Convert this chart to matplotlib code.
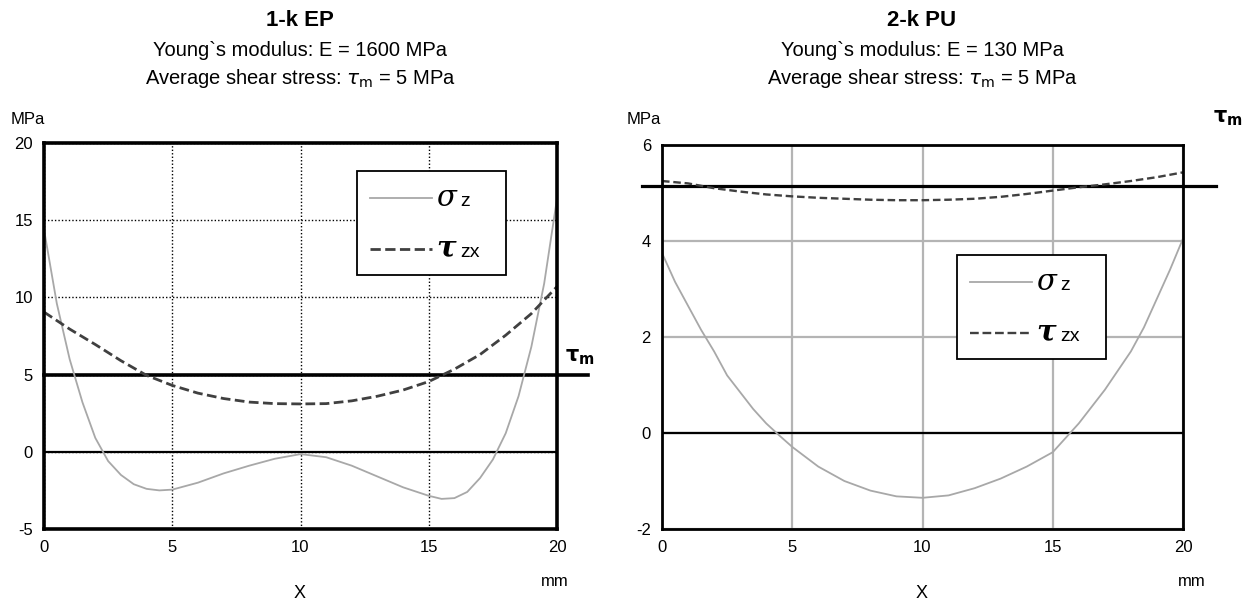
import matplotlib
matplotlib.use("Agg")
import matplotlib.pyplot as plt
from matplotlib.font_manager import FontProperties
from matplotlib.lines import Line2D
from matplotlib.offsetbox import (AnchoredOffsetbox, DrawingArea, HPacker, TextArea,
                                  VPacker)

# ---------------- data ----------------
ep_sigma_x = [0, 0.5, 1, 1.5, 2, 2.5, 3, 3.5, 4, 4.5, 5, 6, 7, 8, 9, 10, 11, 12, 13, 14, 15,
              15.5, 16, 16.5, 17, 17.5, 18, 18.5, 19, 19.5, 20]
ep_sigma = [14.4, 9.6, 6.0, 3.2, 0.9, -0.6, -1.5, -2.1, -2.4, -2.5, -2.45, -2.0, -1.4, -0.9, -0.45,
            -0.15, -0.35, -0.9, -1.6, -2.3, -2.85, -3.05, -3.0, -2.6, -1.7, -0.5, 1.2, 3.6, 6.8, 10.9, 16.4]
ep_tau_x = [0, 1, 2, 3, 4, 5, 6, 7, 8, 9, 10, 11, 12, 13, 14, 15, 16, 17, 18, 19, 20]
ep_tau = [9.05, 7.95, 6.95, 5.9, 4.95, 4.3, 3.8, 3.45, 3.22, 3.12, 3.1, 3.12, 3.3, 3.6, 4.0, 4.55,
          5.35, 6.3, 7.55, 8.95, 10.7]
ep_tau_m = 5.0

pu_sigma_x = [0, 0.5, 1, 1.5, 2, 2.5, 3, 3.5, 4, 4.5, 5, 6, 7, 8, 9, 10, 11, 12, 13, 14, 15,
              15.5, 16, 17, 18, 18.5, 19, 19.5, 20]
pu_sigma = [3.75, 3.15, 2.65, 2.15, 1.7, 1.2, 0.85, 0.5, 0.2, -0.05, -0.29, -0.7, -1.0, -1.2, -1.32,
            -1.35, -1.3, -1.15, -0.95, -0.7, -0.4, -0.1, 0.2, 0.9, 1.7, 2.2, 2.8, 3.4, 4.05]
pu_tau_x = [0, 1, 2, 3, 4, 5, 6, 7, 8, 9, 10, 11, 12, 13, 14, 15, 16, 17, 18, 19, 20]
pu_tau = [5.25, 5.2, 5.1, 5.03, 4.97, 4.93, 4.9, 4.88, 4.86, 4.85, 4.85, 4.86, 4.88, 4.92, 4.98,
          5.05, 5.12, 5.18, 5.25, 5.33, 5.43]
pu_tau_m = 5.15

x_ticks = [0, 5, 10, 15, 20]
ep_y_ticks = [-5, 0, 5, 10, 15, 20]
pu_y_ticks = [-2, 0, 2, 4, 6]

titles = ["1-k EP", "2-k PU"]
moduli = ["Young`s modulus: E = 1600 MPa", "Young`s modulus: E = 130 MPa"]
shear_text = r"Average shear stress: $\tau_{\mathrm{m}}$ = 5 MPa"
legend_symbols = ["σ", "τ"]
legend_subs = ["z", "zx"]

# ---------------- style ----------------
plt.rcParams['font.family'] = ['Liberation Sans', 'DejaVu Sans']
plt.rcParams['mathtext.fontset'] = 'dejavusans'
plt.rcParams['axes.unicode_minus'] = False

fig = plt.figure(figsize=(12.46, 6.06), dpi=100)
W, H = 1246, 606

def axrect(l, r, t, b):
    return [l / W, 1 - b / H, (r - l) / W, (b - t) / H]

ax1 = fig.add_axes(axrect(44, 557, 143, 529))
ax2 = fig.add_axes(axrect(662, 1183, 145, 529))

sig_col = '#a8a8a8'
tau_col = '#404040'

def setup(ax, yticks, grid_kw, spine_lw):
    ax.set_xlim(0, 20)
    ax.set_ylim(yticks[0], yticks[-1])
    ax.set_xticks(x_ticks)
    ax.set_yticks(yticks)
    ax.tick_params(length=0, labelsize=12, pad=8)
    ax.grid(True, **grid_kw)
    ax.set_axisbelow(True)
    for s in ax.spines.values():
        s.set_linewidth(spine_lw)
        s.set_color('black')
        s.set_zorder(6)

setup(ax1, ep_y_ticks, dict(color='black', linestyle=(0, (1, 1.5)), linewidth=1.0), 2.6)
setup(ax2, pu_y_ticks, dict(color='#b4b4b4', linestyle='-', linewidth=1.6), 2.0)

# zero lines
ax1.axhline(0, color='black', lw=1.6, zorder=3)
ax2.axhline(0, color='black', lw=1.6, zorder=3)

# tau_m lines (extend past the right edge)
ax1.plot([0, 21.2], [ep_tau_m, ep_tau_m], color='black', lw=2.6, clip_on=False, zorder=4)
ax2.plot([-0.75, 21.25], [pu_tau_m, pu_tau_m], color='black', lw=2.3, clip_on=False, zorder=4)

# curves
l1, = ax1.plot(ep_sigma_x, ep_sigma, color=sig_col, lw=1.3, zorder=5)
l2, = ax1.plot(ep_tau_x, ep_tau, color=tau_col, lw=2.0, ls=(0, (3.5, 1.6)), zorder=5)
r1, = ax2.plot(pu_sigma_x, pu_sigma, color=sig_col, lw=1.3, zorder=5)
r2, = ax2.plot(pu_tau_x, pu_tau, color=tau_col, lw=1.7, ls=(0, (3.2, 1.6)), zorder=5)

sym_fps = [FontProperties(family='DejaVu Serif', style='italic', size=21),
           FontProperties(family='DejaVu Serif', style='italic', weight='bold', size=21)]
sub_fp = FontProperties(family='Liberation Sans', size=14)

def make_legend(ax, handles, anchor):
    rows = []
    for i, h in enumerate(handles):
        da = DrawingArea(45, 11, 0, 0)
        da.add_artist(Line2D([0, 45], [5.5, 5.5], color=h.get_color(), lw=h.get_linewidth(),
                             ls=h.get_linestyle()))
        kids = [da,
                TextArea(legend_symbols[i], textprops=dict(fontproperties=sym_fps[i])),
                TextArea(legend_subs[i], textprops=dict(fontproperties=sub_fp))]
        if i == len(handles) - 1:
            kids.append(DrawingArea(7, 1, 0, 0))  # right margin spacer
        rows.append(HPacker(children=kids, align='baseline', pad=0, sep=3))
    box = VPacker(children=rows, align='left', pad=0, sep=16)
    outer = HPacker(children=[box], pad=9, sep=0)
    ab = AnchoredOffsetbox(loc='upper left', child=outer, pad=0, borderpad=0, frameon=True,
                           bbox_to_anchor=anchor, bbox_transform=ax.transAxes)
    ab.patch.set_boxstyle('square', pad=0)
    ab.patch.set_edgecolor('black')
    ab.patch.set_facecolor('white')
    ab.patch.set_linewidth(1.3)
    ab.set_zorder(10)
    ax.add_artist(ab)

make_legend(ax1, [l1, l2], ((357 - 44) / 513, (529 - 171) / 386))
make_legend(ax2, [r1, r2], ((957 - 662) / 521, (529 - 255) / 384))

# tau_m labels
fig.text(580 / W, 1 - 357 / H, r'$\mathbf{\tau_m}$', fontsize=15, ha='center', va='center')
fig.text(1228 / W, 1 - 118 / H, r'$\mathbf{\tau_m}$', fontsize=15, ha='center', va='center')

# titles
for cx, tt, mod in [(300, titles[0], moduli[0]), (922, titles[1], moduli[1])]:
    fig.text(cx / W, 1 - 20 / H, tt, fontsize=16, fontweight='bold', ha='center', va='center')
    fig.text(cx / W, 1 - 51 / H, mod, fontsize=14.5, ha='center', va='center')
    fig.text(cx / W, 1 - 78 / H, shear_text, fontsize=14.5, ha='center', va='center')

# unit labels
for lx, mx in [(28, 555), (644, 1192)]:
    fig.text(lx / W, 1 - 119 / H, 'MPa', fontsize=12, ha='center', va='center')
    fig.text(mx / W, 1 - 581 / H, 'mm', fontsize=12, ha='center', va='center')
for cx in [300, 922]:
    fig.text(cx / W, 1 - 593 / H, 'X', fontsize=13, ha='center', va='center')

fig.savefig('out.png', dpi=100)
